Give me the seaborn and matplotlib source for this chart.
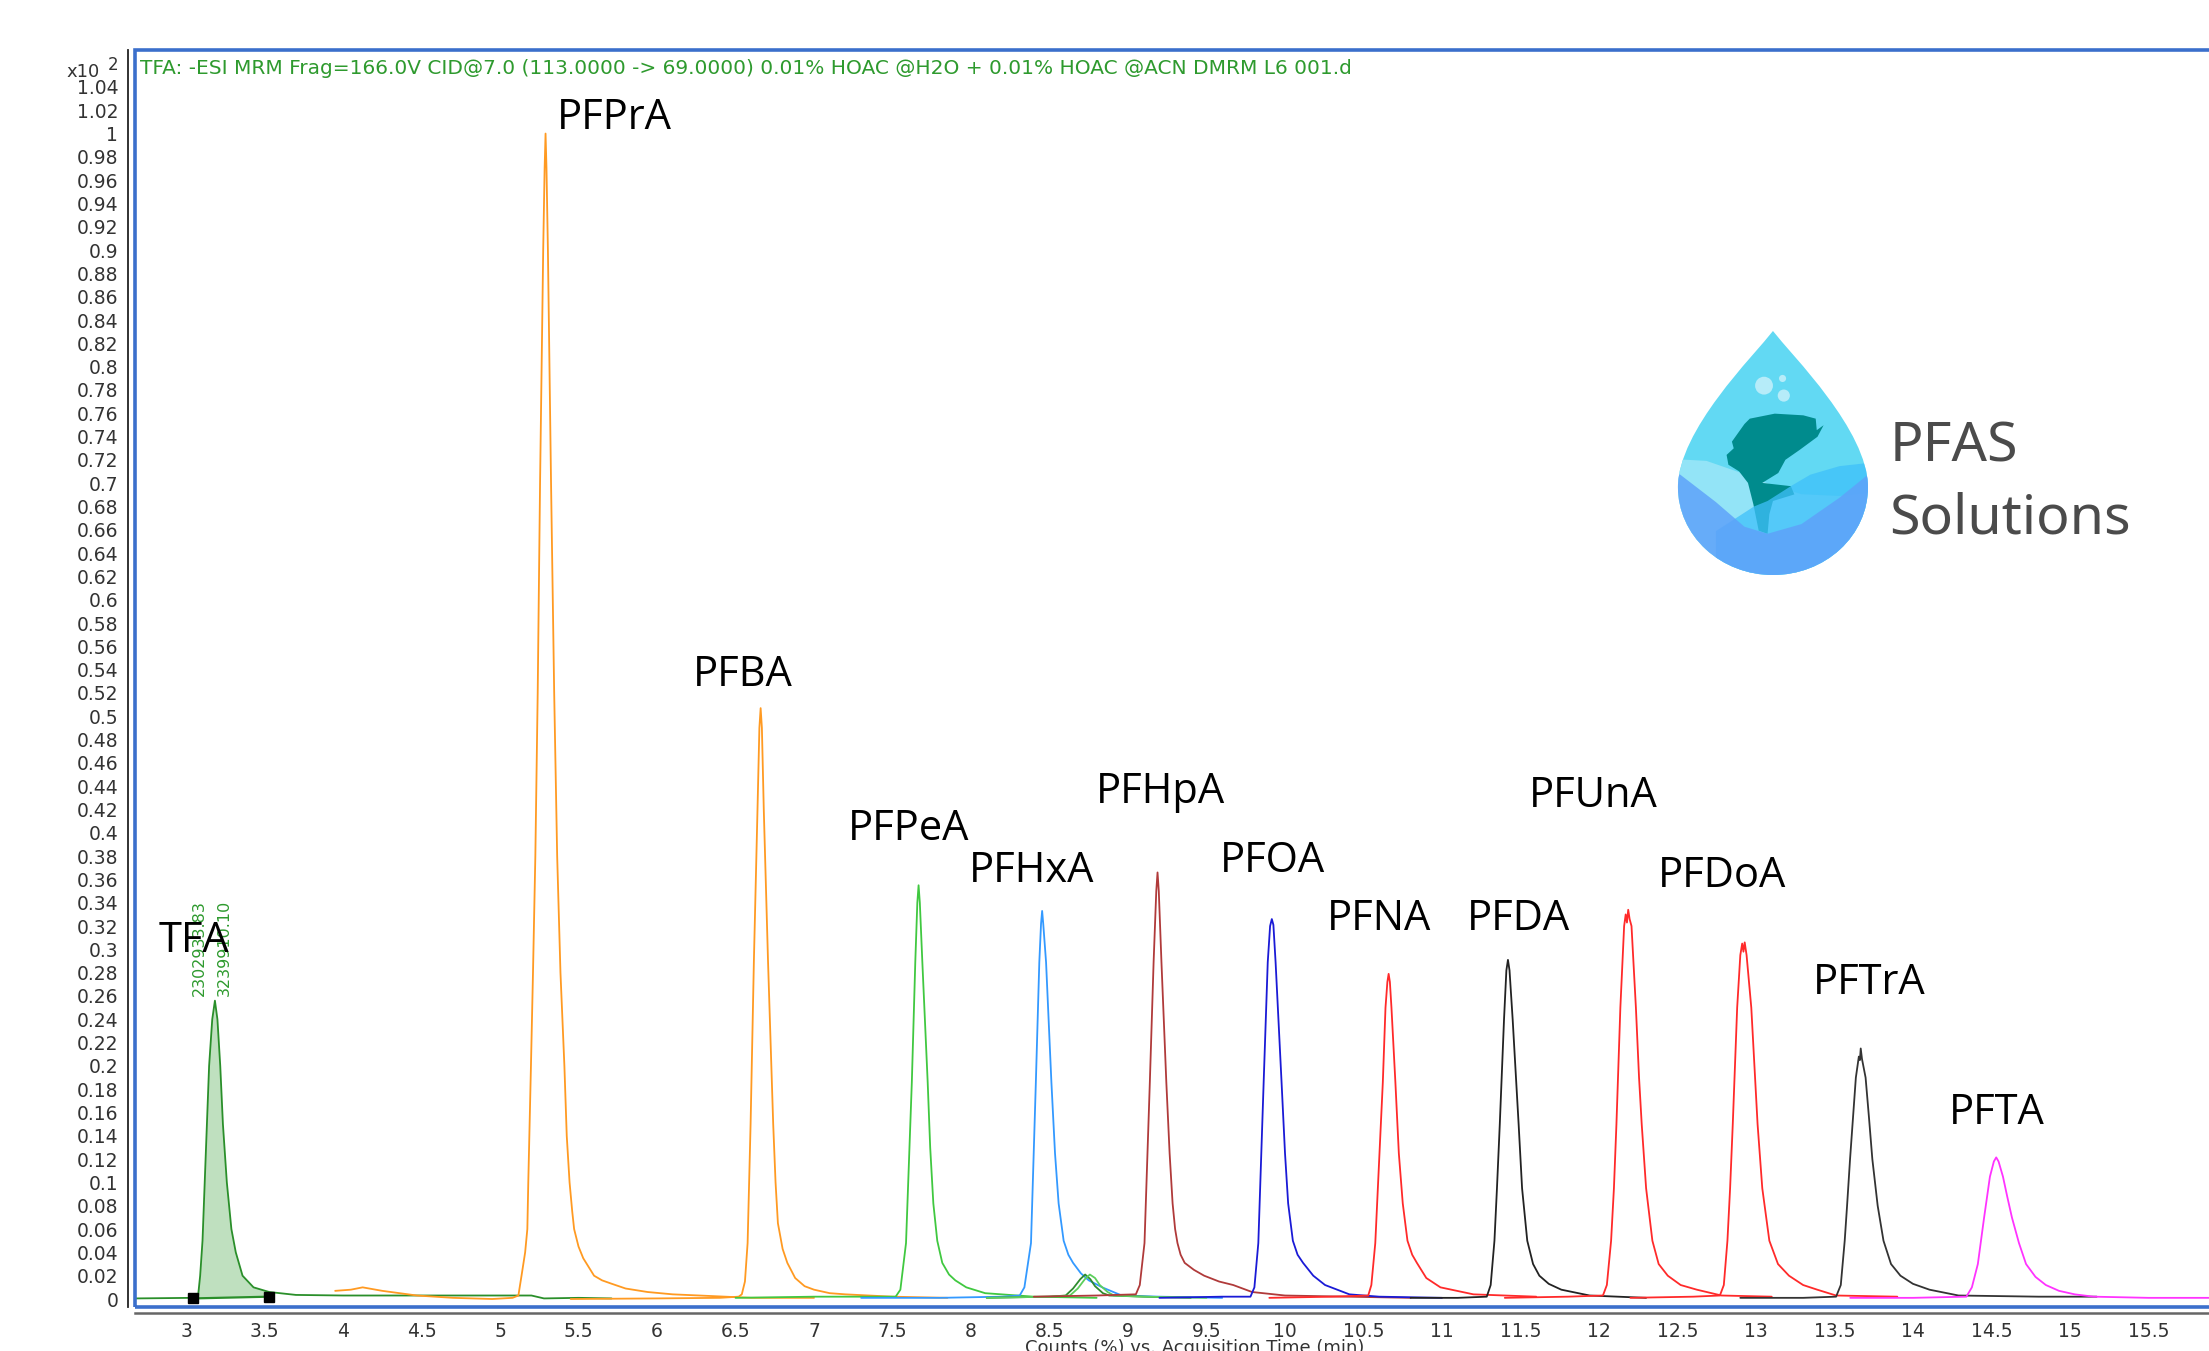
import numpy as np
import pandas as pd
import matplotlib
matplotlib.use("Agg")
import matplotlib.pyplot as plt
import seaborn as sns
from matplotlib.patches import Rectangle, PathPatch, Polygon, Ellipse
from matplotlib.path import Path
from matplotlib.ticker import FixedLocator, FuncFormatter

# ---- chromatogram traces (time in min, counts x10^2 %) ----
tfa_t = [2.68, 2.9, 3.04, 3.077, 3.09, 3.105, 3.119, 3.147, 3.167, 3.184, 3.2, 3.218, 3.235, 3.26,
         3.289, 3.317, 3.36, 3.43, 3.53, 3.7, 4.0, 4.5, 5.0, 5.2, 5.28, 5.5, 5.71]
tfa_y = [0.0005, 0.0008, 0.001, 0.003, 0.02, 0.05, 0.1, 0.2, 0.24, 0.256, 0.24, 0.2, 0.15, 0.1,
         0.06, 0.04, 0.02, 0.01, 0.006, 0.0035, 0.003, 0.003, 0.003, 0.003, 0.0005, 0.001, 0.0005]

pfpra_t = [3.95, 4.05, 4.125, 4.25, 4.47, 4.7, 4.95, 5.08, 5.117, 5.137, 5.16, 5.174, 5.18, 5.197,
           5.21, 5.225, 5.24, 5.255, 5.275, 5.284, 5.29, 5.296, 5.305, 5.325, 5.345, 5.364, 5.385,
           5.41, 5.425, 5.443, 5.46, 5.472, 5.5, 5.53, 5.599, 5.65, 5.713, 5.8, 5.94, 6.1, 6.27,
           6.6, 7.0]
pfpra_y = [0.007, 0.008, 0.010, 0.007, 0.003, 0.001, 0.0, 0.001, 0.003, 0.02, 0.04, 0.06, 0.1, 0.2,
           0.28, 0.38, 0.52, 0.7, 0.9, 0.97, 1.0, 0.97, 0.9, 0.7, 0.52, 0.38, 0.28,
           0.2, 0.14, 0.1, 0.075, 0.06, 0.045, 0.035, 0.02, 0.016, 0.013, 0.009, 0.006, 0.004, 0.003,
           0.001, 0.001]

pfba_t = [5.45, 6.0, 6.4, 6.52, 6.54, 6.56, 6.577, 6.596, 6.617, 6.64, 6.652, 6.66, 6.668, 6.68,
          6.707, 6.74, 6.755, 6.77, 6.8, 6.83, 6.88, 6.94, 7.0, 7.1, 7.2, 7.5, 7.85]
pfba_y = [0.0, 0.0005, 0.001, 0.002, 0.004, 0.015, 0.048, 0.15, 0.29, 0.42, 0.49, 0.507, 0.49, 0.42,
          0.29, 0.15, 0.1, 0.065, 0.043, 0.031, 0.018, 0.011, 0.008, 0.005, 0.004, 0.002, 0.001]

pfpea_t = [6.5, 7.0, 7.4, 7.52, 7.55, 7.586, 7.623, 7.645, 7.658, 7.666, 7.674, 7.69, 7.724, 7.74,
           7.76, 7.785, 7.817, 7.86, 7.9, 7.97, 8.09, 8.4, 8.8]
pfpea_y = [0.001, 0.002, 0.002, 0.002, 0.008, 0.048, 0.186, 0.289, 0.34, 0.355, 0.34, 0.289, 0.186,
           0.13, 0.082, 0.05, 0.031, 0.021, 0.016, 0.01, 0.005, 0.002, 0.001]

pfhxa_t = [7.3, 7.8, 8.2, 8.31, 8.34, 8.382, 8.413, 8.435, 8.446, 8.453, 8.46, 8.478, 8.512, 8.535,
           8.558, 8.59, 8.62, 8.65, 8.7, 8.75, 8.836, 8.96, 9.2, 9.6]
pfhxa_y = [0.001, 0.001, 0.002, 0.003, 0.01, 0.048, 0.186, 0.289, 0.322, 0.333, 0.322, 0.289, 0.186,
           0.125, 0.082, 0.05, 0.038, 0.031, 0.022, 0.016, 0.01, 0.003, 0.002, 0.001]

bump1_t = [8.1, 8.5, 8.603, 8.65, 8.696, 8.727, 8.76, 8.79, 8.84, 8.88, 9.1, 9.4]
bump1_y = [0.001, 0.002, 0.003, 0.009, 0.017, 0.021, 0.017, 0.011, 0.005, 0.003, 0.002, 0.001]

bump2_t = [8.1, 8.5, 8.63, 8.68, 8.725, 8.757, 8.79, 8.82, 8.87, 8.91, 9.1, 9.5]
bump2_y = [0.001, 0.002, 0.003, 0.009, 0.017, 0.021, 0.018, 0.012, 0.006, 0.003, 0.002, 0.001]

pfhpa_t = [8.4, 8.8, 9.05, 9.075, 9.105, 9.139, 9.163, 9.18, 9.188, 9.196, 9.213, 9.244, 9.265,
           9.284, 9.3, 9.315, 9.335, 9.361, 9.42, 9.485, 9.58, 9.67, 9.79, 10.0, 10.4, 10.8]
pfhpa_y = [0.002, 0.003, 0.004, 0.012, 0.048, 0.186, 0.289, 0.35, 0.366, 0.35, 0.289, 0.186, 0.125,
           0.082, 0.06, 0.048, 0.038, 0.031, 0.025, 0.02, 0.015, 0.012, 0.006, 0.003, 0.002, 0.001]

pfoa_t = [9.2, 9.6, 9.78, 9.805, 9.83, 9.864, 9.89, 9.905, 9.916, 9.926, 9.94, 9.978, 10.0, 10.02,
          10.05, 10.08, 10.115, 10.18, 10.255, 10.41, 10.6, 11.0]
pfoa_y = [0.001, 0.002, 0.002, 0.01, 0.048, 0.186, 0.289, 0.32, 0.326, 0.321, 0.289, 0.186, 0.125,
          0.082, 0.05, 0.038, 0.031, 0.02, 0.012, 0.004, 0.002, 0.001]

pfna_t = [9.9, 10.3, 10.53, 10.55, 10.575, 10.6, 10.623, 10.64, 10.652, 10.66, 10.668, 10.678,
          10.703, 10.725, 10.75, 10.78, 10.81, 10.84, 10.9, 10.99, 11.2, 11.6]
pfna_y = [0.001, 0.002, 0.003, 0.012, 0.048, 0.12, 0.186, 0.25, 0.272, 0.279, 0.272, 0.25,
          0.186, 0.125, 0.082, 0.05, 0.038, 0.031, 0.018, 0.01, 0.004, 0.002]

pfda_t = [10.8, 11.1, 11.285, 11.31, 11.334, 11.35, 11.368, 11.395, 11.41, 11.42, 11.43, 11.45,
          11.488, 11.51, 11.543, 11.58, 11.62, 11.68, 11.76, 11.94, 12.3]
pfda_y = [0.001, 0.001, 0.002, 0.012, 0.05, 0.095, 0.15, 0.24, 0.282, 0.291, 0.282, 0.24,
          0.15, 0.095, 0.05, 0.03, 0.02, 0.013, 0.008, 0.003, 0.001]

pfuna_t = [11.4, 11.8, 12.025, 12.05, 12.077, 12.095, 12.111, 12.136, 12.16, 12.17, 12.178, 12.186,
           12.195, 12.207, 12.235, 12.255, 12.272, 12.3, 12.34, 12.38, 12.438, 12.52, 12.623, 12.78,
           13.1]
pfuna_y = [0.001, 0.002, 0.003, 0.012, 0.05, 0.095, 0.15, 0.25, 0.32, 0.33, 0.323, 0.334,
           0.326, 0.32, 0.25, 0.19, 0.15, 0.095, 0.05, 0.03, 0.02, 0.012, 0.008, 0.003,
           0.002]

pfdoa_t = [12.2, 12.6, 12.77, 12.795, 12.818, 12.835, 12.852, 12.88, 12.9, 12.912, 12.92, 12.928,
           12.94, 12.97, 12.99, 13.01, 13.04, 13.085, 13.14, 13.21, 13.3, 13.39, 13.51, 13.9]
pfdoa_y = [0.001, 0.002, 0.003, 0.012, 0.05, 0.095, 0.15, 0.25, 0.295, 0.305, 0.298, 0.306,
           0.295, 0.25, 0.2, 0.15, 0.095, 0.05, 0.03, 0.02, 0.012, 0.008, 0.003, 0.002]

pftra_t = [12.9, 13.3, 13.51, 13.54, 13.565, 13.58, 13.599, 13.636, 13.655, 13.662, 13.667, 13.675,
           13.698, 13.72, 13.741, 13.775, 13.812, 13.86, 13.92, 14.0, 14.105, 14.29, 14.8, 15.17]
pftra_y = [0.001, 0.001, 0.002, 0.012, 0.05, 0.08, 0.12, 0.19, 0.208, 0.205, 0.215, 0.206,
           0.19, 0.155, 0.12, 0.08, 0.05, 0.03, 0.02, 0.013, 0.008, 0.003, 0.002, 0.002]

pfta_t = [13.6, 14.0, 14.34, 14.375, 14.413, 14.453, 14.49, 14.515, 14.53, 14.545, 14.573, 14.6,
          14.63, 14.675, 14.72, 14.78, 14.846, 14.93, 15.03, 15.15, 15.5, 15.9]
pfta_y = [0.001, 0.001, 0.002, 0.01, 0.03, 0.07, 0.105, 0.118, 0.1215, 0.118, 0.105, 0.088,
          0.07, 0.048, 0.03, 0.019, 0.012, 0.007, 0.004, 0.002, 0.001, 0.001]

trace_names = ["TFA", "PFPrA", "PFBA", "PFPeA", "PFHxA", "bump1", "bump2", "PFHpA", "PFOA",
               "PFNA", "PFDA", "PFUnA", "PFDoA", "PFTrA", "PFTA"]
trace_times = [tfa_t, pfpra_t, pfba_t, pfpea_t, pfhxa_t, bump1_t, bump2_t, pfhpa_t, pfoa_t,
               pfna_t, pfda_t, pfuna_t, pfdoa_t, pftra_t, pfta_t]
trace_counts = [tfa_y, pfpra_y, pfba_y, pfpea_y, pfhxa_y, bump1_y, bump2_y, pfhpa_y, pfoa_y,
                pfna_y, pfda_y, pfuna_y, pfdoa_y, pftra_y, pfta_y]
trace_colors = ["#2a8f2a", "#ff9a22", "#ff9a22", "#40c840", "#3399ff", "#2e8b2e", "#5ccf5c",
                "#b03a3a", "#1a1ad6", "#ff2a2a", "#222222", "#ff2a2a", "#ff2a2a", "#333333",
                "#ff33ff"]

# peak labels
label_names = ["TFA", "PFPrA", "PFBA", "PFPeA", "PFHxA", "PFHpA", "PFOA", "PFNA", "PFDA",
               "PFUnA", "PFDoA", "PFTrA", "PFTA"]
label_x = [2.828, 5.363, 6.229, 7.217, 7.987, 8.796, 9.586, 10.268, 11.159, 11.554, 12.376,
           13.363, 14.229]
label_y = [0.307, 1.013, 0.535, 0.403, 0.367, 0.435, 0.376, 0.326, 0.326, 0.432, 0.363,
           0.271, 0.160]

# integration baseline markers of the TFA peak
base_t = [3.045, 3.53]
base_y = [0.0005, 0.002]

x_ticks = np.arange(3.0, 15.51, 0.5)
y_ticks = np.arange(0.0, 1.041, 0.02)

header = ("TFA: -ESI MRM Frag=166.0V CID@7.0 (113.0000 -> 69.0000) 0.01% HOAC @H2O + "
          "0.01% HOAC @ACN DMRM L6 001.d")


def build_frame():
    parts = []
    for name, t, y in zip(trace_names, trace_times, trace_counts):
        parts.append(pd.DataFrame({"time": t, "counts": y, "trace": name}))
    return pd.concat(parts, ignore_index=True)


def trim(v, digits):
    return f"{v:.{digits}f}".rstrip("0").rstrip(".")


def draw_logo(fig):
    # drop: x unit = 95 px, y unit = 87.8 px, circle centre at (1773, 480)
    lax = fig.add_axes([1660 / 2209, (1351 - 600) / 1351, 230 / 2209, 280 / 1351])
    lax.set_xlim(-1.189, 1.232)
    lax.set_ylim(-1.285, 1.905)
    lax.axis("off")

    arc = Path.arc(180, 360)
    verts = [(0, 1.78), (-0.2, 1.5), (-1.0, 0.65), (-1.0, 0.0)]
    codes = [Path.MOVETO, Path.CURVE4, Path.CURVE4, Path.CURVE4]
    verts += list(arc.vertices[1:])
    codes += list(arc.codes[1:])
    verts += [(1.0, 0.65), (0.2, 1.5), (0, 1.78), (0, 1.78)]
    codes += [Path.CURVE4, Path.CURVE4, Path.CURVE4, Path.CLOSEPOLY]
    drop = PathPatch(Path(verts, codes), facecolor="#62d9f3", edgecolor="none")
    lax.add_patch(drop)

    pale = [(-1.2, 0.33), (-0.7, 0.3), (-0.3, 0.15), (0.0, 0.02), (0.3, -0.08), (0.7, -0.1),
            (1.2, -0.05), (1.2, -1.3), (-1.2, -1.3)]
    medium = [(-0.6, -0.5), (-0.2, -0.22), (-0.057, -0.157), (0.2, 0.02), (0.394, 0.143),
              (0.7, 0.24), (1.2, 0.3), (1.2, -1.3), (-0.6, -1.3)]
    bottom = [(-1.2, 0.2), (-0.976, 0.143), (-0.6, -0.17), (-0.3, -0.45), (-0.057, -0.53),
              (0.3, -0.42), (0.7, -0.12), (1.0, 0.143), (1.2, 0.2), (1.2, -1.3), (-1.2, -1.3)]
    fish = [(-0.432, 0.519), (-0.3, 0.72), (-0.244, 0.781), (0.019, 0.838), (0.319, 0.819),
            (0.45, 0.781), (0.461, 0.65), (0.533, 0.706), (0.469, 0.575), (0.281, 0.425),
            (0.131, 0.312), (0.056, 0.162), (-0.113, 0.049), (0.188, 0.012), (0.225, -0.082),
            (0.0, -0.157), (-0.038, -0.307), (-0.057, -0.532), (-0.15, -0.495), (-0.206, -0.195),
            (-0.263, 0.049), (-0.357, 0.181), (-0.469, 0.256), (-0.488, 0.368), (-0.413, 0.443)]

    layers = [
        Polygon(pale, closed=True, facecolor="#93e4f7", edgecolor="none"),
        Polygon(fish, closed=True, facecolor="#008b8d", edgecolor="none"),
        Polygon(medium, closed=True, facecolor="#3fc0fa", edgecolor="none", alpha=0.75),
        Polygon(bottom, closed=True, facecolor="#5ea2fa", edgecolor="none", alpha=0.85),
    ]
    for patch in layers:
        lax.add_patch(patch)
        patch.set_clip_path(drop)

    for cx, cy, r in [(-0.094, 1.157, 0.094), (0.101, 1.239, 0.0375), (0.114, 1.044, 0.064)]:
        lax.add_patch(Ellipse((cx, cy), 2 * r, 2 * r * 95 / 87.8, facecolor="#b6ecf9",
                              edgecolor="none"))

    fig.text(1890 / 2209, (1351 - 447) / 1351, "PFAS", fontsize=40, color="#4b4b4b",
             family="Noto Sans", va="center", ha="left")
    fig.text(1889 / 2209, (1351 - 519) / 1351, "Solutions", fontsize=40, color="#4b4b4b",
             family="Noto Sans", va="center", ha="left")


def plot_chromatogram(df):
    fig = plt.figure(figsize=(22.09, 13.51), dpi=100)
    ax = fig.add_axes([135 / 2209, 44 / 1351, (2240 - 135) / 2209, (1307 - 50) / 1351])

    palette = dict(zip(trace_names, trace_colors))

    # TFA integrated area
    area = df[(df["trace"] == "TFA") & (df["time"] >= base_t[0]) & (df["time"] <= base_t[1])]
    ax.fill(list(area["time"]) + [base_t[1], base_t[0]],
            list(area["counts"]) + [base_y[1], base_y[0]],
            color="#bfe0bf", zorder=1, linewidth=0)

    sns.lineplot(data=df, x="time", y="counts", hue="trace", palette=palette,
                 estimator=None, sort=False, legend=False, linewidth=1.3, ax=ax, zorder=2)

    ax.plot(base_t, base_y, color="#2a8f2a", linewidth=1.6, zorder=3)
    ax.plot(base_t, base_y, linestyle="none", marker="s", markersize=7, color="black", zorder=4)

    ax.text(3.083, 0.26, "2302933.83", rotation=90, ha="center", va="bottom",
            color="#2e9a2e", fontsize=11.5)
    ax.text(3.242, 0.26, "3239910.10", rotation=90, ha="center", va="bottom",
            color="#2e9a2e", fontsize=11.5)

    for name, x, y in zip(label_names, label_x, label_y):
        ax.text(x, y, name, fontsize=30, family=["Open Sans", "DejaVu Sans"],
                ha="left", va="center", color="black", zorder=5)

    ax.set_xlim(2.675, 3 + (2240 - 186) / 157)
    ax.set_ylim(-0.00686, 1.0717)
    ax.xaxis.set_major_locator(FixedLocator(x_ticks))
    ax.yaxis.set_major_locator(FixedLocator(y_ticks))
    ax.xaxis.set_major_formatter(FuncFormatter(lambda v, p: trim(v, 1)))
    ax.yaxis.set_major_formatter(FuncFormatter(lambda v, p: trim(v, 2)))
    ax.set_xlabel("")
    ax.set_ylabel("")

    for side in ["top", "right"]:
        ax.spines[side].set_visible(False)
    ax.spines["left"].set_position(("outward", 5))
    ax.spines["left"].set_color("#222222")
    ax.spines["left"].set_linewidth(1.3)
    ax.spines["bottom"].set_position(("outward", 4))
    ax.spines["bottom"].set_color("#666666")
    ax.spines["bottom"].set_linewidth(1.8)
    ax.tick_params(axis="both", direction="out", length=4.5, width=1.0, colors="#333333",
                   labelsize=13.5, labelcolor="#333333")
    ax.tick_params(axis="y", pad=2.5)
    ax.tick_params(axis="x", pad=2)

    # blue plot frame
    ax.add_patch(Rectangle((0, 0), 1.2, 1, transform=ax.transAxes, fill=False,
                           edgecolor="#3b6fcc", linewidth=2.6, clip_on=False, zorder=6))

    fig.text(140 / 2209, (1351 - 69) / 1351, header, color="#2e9a2e", fontsize=14.5,
             va="center", ha="left")
    fig.text(66 / 2209, (1351 - 77) / 1351, "x10", fontsize=13, color="#333333", va="baseline")
    fig.text(108 / 2209, (1351 - 70) / 1351, "2", fontsize=12, color="#333333", va="baseline")
    fig.text(1195 / 2209, (1351 - 1339) / 1351, "Counts (%) vs. Acquisition Time (min)",
             fontsize=13, color="#333333", ha="center", va="top")

    draw_logo(fig)
    fig.savefig("out.png", dpi=100)


if __name__ == "__main__":
    sns.set_style("white")
    plt.rcParams["font.family"] = ["DejaVu Sans"]
    df = build_frame()
    plot_chromatogram(df)
